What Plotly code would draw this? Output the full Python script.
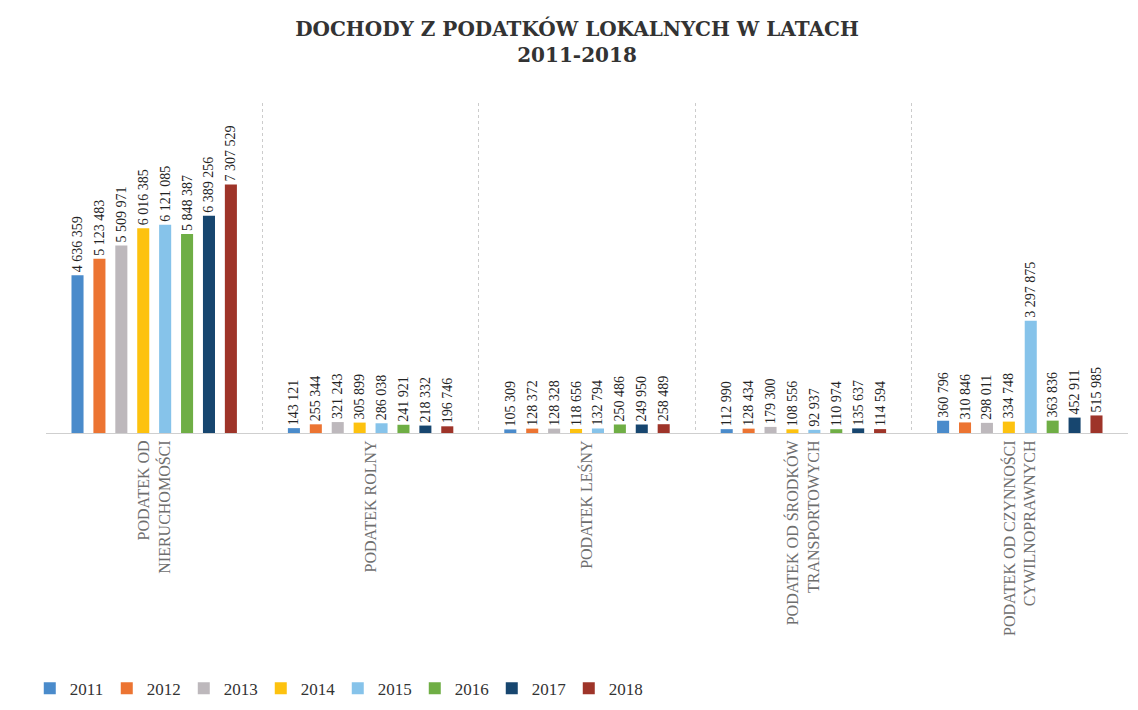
import plotly.graph_objects as go

# kategorie podatków (oś X) i lata (serie)
CATEGORIES = [
    "PODATEK OD<br>NIERUCHOMOŚCI",
    "PODATEK ROLNY",
    "PODATEK LEŚNY",
    "PODATEK OD ŚRODKÓW<br>TRANSPORTOWYCH",
    "PODATEK OD CZYNNOŚCI<br>CYWILNOPRAWNYCH",
]
YEARS = ["2011", "2012", "2013", "2014", "2015", "2016", "2017", "2018"]

NIERUCHOMOSCI = [4636359, 5123483, 5509971, 6016385, 6121085, 5848387, 6389256, 7307529]
ROLNY = [143121, 255344, 321243, 305899, 286038, 241921, 218332, 196746]
LESNY = [105309, 128372, 128328, 118656, 132794, 250486, 249950, 258489]
TRANSPORT = [112990, 128434, 179300, 108556, 92937, 110974, 135637, 114594]
CYWILNOPRAWNE = [360796, 310846, 298011, 334748, 3297875, 363836, 452911, 515985]

YEAR_COLORS = [
    "#4a8bcb", "#ec7432", "#bdb8bc", "#fdc20f",
    "#86c3ea", "#6fae45", "#17466f", "#9e3429",
]

by_category = [NIERUCHOMOSCI, ROLNY, LESNY, TRANSPORT, CYWILNOPRAWNE]

fig = go.Figure()
for i, year in enumerate(YEARS):
    fig.add_trace(
        go.Bar(
            x=CATEGORIES,
            y=[vals[i] for vals in by_category],
            name=year,
            marker=dict(color=YEAR_COLORS[i], line_width=0),
            texttemplate="%{y:,}",
            textposition="outside",
            textangle=-90,
            constraintext="none",
            textfont=dict(family="Liberation Serif", size=14, color="#222222"),
            cliponaxis=False,
        )
    )

fig.update_layout(
    width=1138,
    height=710,
    barmode="group",
    bargap=0.19,
    bargroupgap=0.45,
    separators=". ",
    plot_bgcolor="white",
    paper_bgcolor="white",
    margin=dict(l=38, r=18, t=95, b=285),
    title=dict(
        text="<b>DOCHODY Z PODATKÓW LOKALNYCH W LATACH<br>2011-2018</b>",
        x=0.5,
        xanchor="center",
        y=0.96,
        yanchor="top",
        font=dict(family="DejaVu Serif", size=20, color="#333333"),
    ),
    legend=dict(
        orientation="h",
        x=-0.015,
        xanchor="left",
        y=-0.775,
        yanchor="middle",
        font=dict(family="Liberation Serif", size=17, color="#333333"),
        entrywidth=32,
        entrywidthmode="pixels",
        itemwidth=30,
        bgcolor="rgba(0,0,0,0)",
    ),
)
fig.update_xaxes(
    showline=True,
    linecolor="#cfcfcf",
    linewidth=1,
    showgrid=True,
    gridcolor="#cccccc",
    griddash="dot",
    tickson="boundaries",
    ticks="",
    tickangle=-90,
    tickfont=dict(family="Liberation Serif", size=16, color="#6e6e6e"),
)
fig.update_yaxes(
    range=[0, 9.7e6],
    visible=False,
    showgrid=False,
)

fig.write_html("out.html")
